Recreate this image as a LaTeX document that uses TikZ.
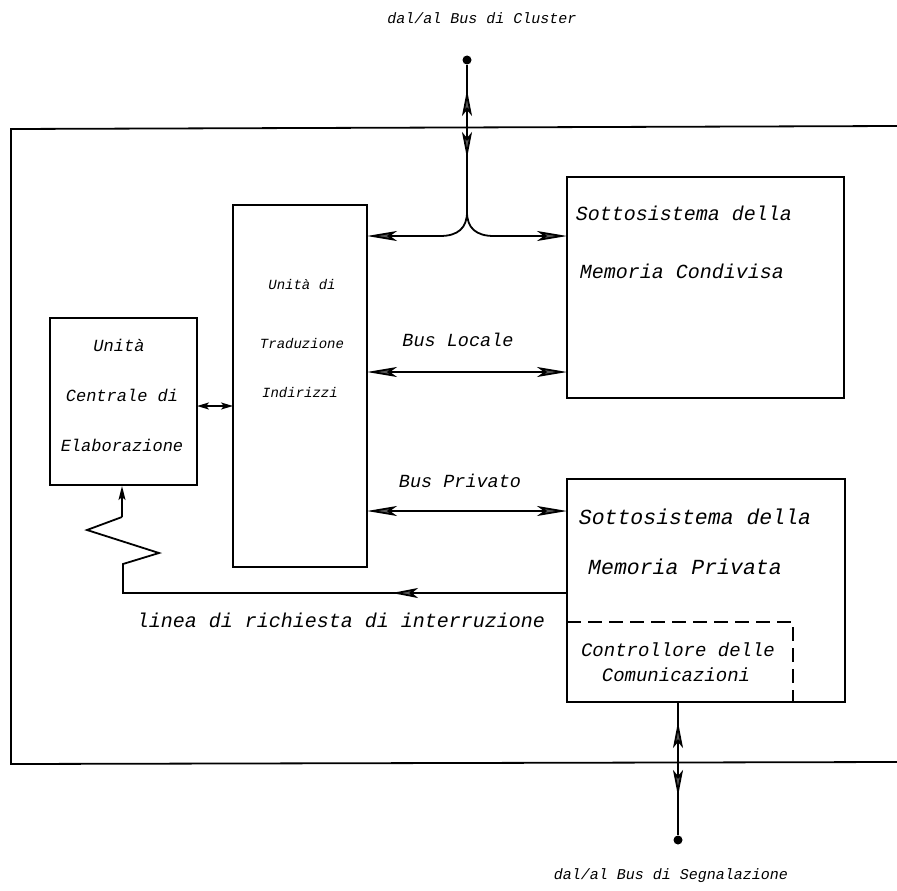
\documentclass[tikz,border=0pt]{standalone}
\usepackage{fontspec}
\setmonofont{Liberation Mono}
\usetikzlibrary{arrows.meta}
\begin{document}
\begin{tikzpicture}[x=1pt,y=-1pt, line width=1.8pt,
  box/.style={draw, rectangle, inner sep=0pt},
  lbl/.style={font=\ttfamily\itshape\fontsize{#1}{#1}\selectfont, inner sep=0pt, anchor=center},
  lbl/.default=20,
  ah/.style={-{Stealth[length=26pt,width=10pt,inset=6pt,fill=black!65]}},
  bh/.style={-{Stealth[length=30pt,width=10pt,inset=7pt,fill=black!65]}},
  dbl/.style={{Stealth[length=30pt,width=10pt,inset=7pt,fill=black!65]}-{Stealth[length=30pt,width=10pt,inset=7pt,fill=black!65]}},
  dot/.style={circle, fill, inner sep=0pt, minimum size=9pt}]
\useasboundingbox (0,0) rectangle (897,891);

% outer frame (open on the right)
\draw (897,126) -- (11,129) -- (11,764) -- (897,762);

% boxes
\node[box, minimum width=277pt, minimum height=221pt] (smc) at (705.5,287.5) {};
\node[box, minimum width=147pt, minimum height=167pt] (cpu) at (123.5,401.5) {};
\node[box, minimum width=134pt, minimum height=362pt] (uti) at (300,386) {};
\node[box, minimum width=278pt, minimum height=223pt] (smp) at (706,590.5) {};

% dashed controller region
\coordinate (dc1) at (567,622);
\coordinate (dc2) at (793,622);
\coordinate (dc3) at (793,702);
\draw[dash pattern=on 14pt off 7pt, line width=1.4pt] (dc1) -- (dc2) -- (dc3);

% texts
\node[lbl=15] (tcl) at (482,18) {dal/al Bus di Cluster};
\node[lbl=20] (t1) at (684,213) {Sottosistema della};
\node[lbl=20] (t2) at (682,271) {Memoria Condivisa};
\node[lbl=14] (t3) at (302,285) {Unità di};
\node[lbl=14] (t4) at (302,344) {Traduzione};
\node[lbl=14] (t5) at (300,393) {Indirizzi};
\node[lbl=17] (t6) at (119,345) {Unità};
\node[lbl=17] (t7) at (122,395) {Centrale di};
\node[lbl=17] (t8) at (122,445) {Elaborazione};
\node[lbl=18.5] (t9) at (458,340) {Bus Locale};
\node[lbl=18.5] (t10) at (460,481) {Bus Privato};
\node[lbl=21.5] (t11) at (695,517) {Sottosistema della};
\node[lbl=21.5] (t12) at (685,567) {Memoria Privata};
\node[lbl=20] (t13) at (341,620) {linea di richiesta di interruzione};
\node[lbl=19] (t14) at (678,650) {Controllore delle};
\node[lbl=19] (t15) at (676,675) {Comunicazioni};
\node[lbl=15] (tsg) at (671,876) {dal/al Bus di Segnalazione};

% top connection to cluster bus
\node[dot] (topdot) at (467,60) {};
\coordinate (junc) at (467,212);
\coordinate (jl) at (440,236);
\coordinate (jr) at (494,236);
\coordinate (ul) at (367,236);
\coordinate (sr) at (567,236);
\draw (topdot) -- (junc);
\coordinate (ta1) at (467,116);
\coordinate (ta1t) at (467,90);
\coordinate (ta2) at (467,132);
\coordinate (ta2t) at (467,158);
\draw[ah] (ta1) -- (ta1t);
\draw[ah] (ta2) -- (ta2t);
\draw (junc) .. controls (467,228) and (458,236) .. (jl);
\draw (junc) .. controls (467,228) and (476,236) .. (jr);
\draw[bh] (jl) -- (ul);
\draw[bh] (jr) -- (sr);

% local and private buses
\coordinate (bl1) at (367,372);
\coordinate (bl2) at (567,372);
\draw[dbl] (bl1) -- (bl2);
\coordinate (bp1) at (367,511);
\coordinate (bp2) at (567,511);
\draw[dbl] (bp1) -- (bp2);

% cpu - uti
\coordinate (cu1) at (197,406);
\coordinate (cu2) at (233,406);
\draw[{Stealth[length=12pt,width=7pt,inset=3pt,fill=black!65]}-{Stealth[length=12pt,width=7pt,inset=3pt,fill=black!65]}] (cu1) -- (cu2);

% interrupt line
\coordinate (i0) at (567,593);
\coordinate (i1) at (123,593);
\coordinate (i2) at (123,564);
\coordinate (i3) at (159,553);
\coordinate (i4) at (87,530);
\coordinate (i5) at (122,517);
\coordinate (i6) at (122,486);
\draw (i0) -- (i1) -- (i2) -- (i3) -- (i4) -- (i5);
\draw[-{Stealth[length=14pt,width=7pt,inset=3pt,fill=black!65]}] (i5) -- (i6);
\coordinate (ia1) at (422,593);
\coordinate (ia2) at (392,593);
\draw[ah] (ia1) -- (ia2);

% bottom connection to signalling bus
\node[dot] (botdot) at (678,840) {};
\coordinate (bs) at (678,702);
\draw (bs) -- (botdot);
\coordinate (ba1) at (678,748);
\coordinate (ba1t) at (678,722);
\coordinate (ba2) at (678,770);
\coordinate (ba2t) at (678,796);
\draw[ah] (ba1) -- (ba1t);
\draw[ah] (ba2) -- (ba2t);
\end{tikzpicture}
\end{document}
